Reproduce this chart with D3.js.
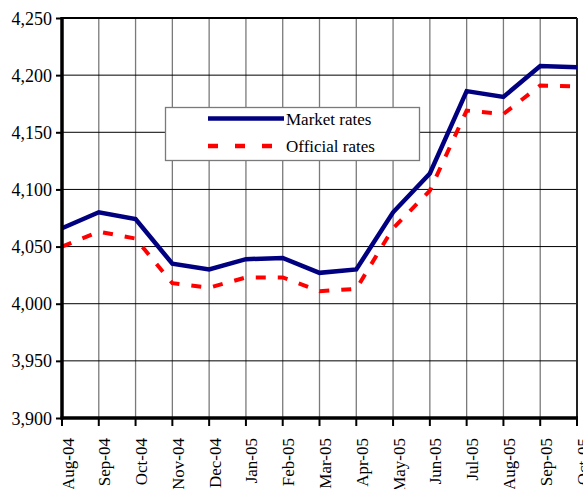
<!DOCTYPE html>
<html><head><meta charset="utf-8">
<script src="https://cdn.jsdelivr.net/npm/d3@7/dist/d3.min.js"></script>
<style>body{margin:0;background:#fff}svg{display:block}text{font-family:"Liberation Serif","Times New Roman",serif;fill:#000}</style>
</head><body>
<script>
const months = ["Aug-04","Sep-04","Oct-04","Nov-04","Dec-04","Jan-05","Feb-05","Mar-05","Apr-05","May-05","Jun-05","Jul-05","Aug-05","Sep-05","Oct-05"];
const marketRates = [4066,4080,4074,4035,4030,4039,4040,4027,4030,4080,4114,4186,4181,4208,4207];
const officialRates = [4050,4063,4057,4018,4014,4023,4023,4011,4013,4066,4099,4169,4166,4191,4190];
const yTicks = [3900,3950,4000,4050,4100,4150,4200,4250];
const seriesNames = ["Market rates","Official rates"];

const W=583,H=489;
const m={left:62,right:6,top:18,bottom:71};
const svg=d3.select("body").append("svg").attr("width",W).attr("height",H);
const x=d3.scalePoint().domain(months).range([m.left,W-m.right]);
const y=d3.scaleLinear().domain([3900,4250]).range([H-m.bottom,m.top]);
const fmt=d3.format(",");

// gridlines
svg.append("g").selectAll("line").data(months.slice(1,-1)).join("line")
  .attr("x1",d=>x(d)).attr("x2",d=>x(d)).attr("y1",y(3900)).attr("y2",y(4250))
  .attr("stroke","#7a7a7a").attr("stroke-width",1.3);
svg.append("g").selectAll("line").data(yTicks.slice(1,-1)).join("line")
  .attr("x1",x.range()[0]).attr("x2",x.range()[1]).attr("y1",d=>y(d)).attr("y2",d=>y(d))
  .attr("stroke","#000").attr("stroke-width",1);

// frame top/right
svg.append("line").attr("x1",m.left).attr("x2",W-m.right).attr("y1",y(4250)).attr("y2",y(4250)).attr("stroke","#000").attr("stroke-width",2);
svg.append("line").attr("x1",W-m.right).attr("x2",W-m.right).attr("y1",y(4250)).attr("y2",y(3900)).attr("stroke","#222").attr("stroke-width",2);

// legend box (behind lines)
const lg=svg.append("g");
lg.append("rect").attr("x",165.5).attr("y",107.5).attr("width",254).attr("height",53)
  .attr("fill","#fff").attr("stroke","#7a7a7a").attr("stroke-width",1.3);

// lines
const line=d3.line().x((d,i)=>x(months[i])).y(d=>y(d));
svg.append("path").datum(officialRates).attr("d",line).attr("fill","none")
  .attr("stroke","#ff0000").attr("stroke-width",4).attr("stroke-dasharray","10,12");
svg.append("path").datum(marketRates).attr("d",line).attr("fill","none")
  .attr("stroke","#000080").attr("stroke-width",4.5).attr("stroke-linejoin","miter");

// legend entries
lg.append("line").attr("x1",208).attr("x2",284).attr("y1",118.5).attr("y2",118.5).attr("stroke","#000080").attr("stroke-width",4.5);
lg.append("line").attr("x1",208).attr("x2",284).attr("y1",146).attr("y2",146).attr("stroke","#ff0000").attr("stroke-width",4.5).attr("stroke-dasharray","10,17");
lg.append("text").attr("x",286).attr("y",124.5).attr("font-size",17).text(seriesNames[0]);
lg.append("text").attr("x",286).attr("y",152).attr("font-size",17).text(seriesNames[1]);

// y axis
const ya=svg.append("g").attr("transform",`translate(${m.left},0)`)
  .call(d3.axisLeft(y).tickValues(yTicks).tickFormat(fmt).tickSize(6).tickPadding(4));
ya.select(".domain").remove();
ya.selectAll(".tick line").attr("stroke","#000").attr("stroke-width",2);
ya.selectAll(".tick text").attr("font-size",18).attr("font-family","Liberation Serif").attr("fill","#000").attr("dy","0.34em");
svg.append("line").attr("x1",m.left).attr("x2",m.left).attr("y1",y(4250)-1).attr("y2",y(3900)+1.5).attr("stroke","#000").attr("stroke-width",3.5);

// x axis
const xa=svg.append("g").attr("transform",`translate(0,${y(3900)})`);
xa.selectAll("line").data(months).join("line")
  .attr("x1",d=>x(d)).attr("x2",d=>x(d)).attr("y1",0).attr("y2",8).attr("stroke","#000").attr("stroke-width",2);
xa.selectAll("text").data(months).join("text")
  .attr("transform",d=>`translate(${x(d)+11.5},20) rotate(-90)`)
  .attr("text-anchor","end").attr("font-size",17).text(d=>d);
svg.append("line").attr("x1",m.left-1.5).attr("x2",W-m.right+1).attr("y1",y(3900)).attr("y2",y(3900)).attr("stroke","#000").attr("stroke-width",3.5);
</script>
</body></html>
